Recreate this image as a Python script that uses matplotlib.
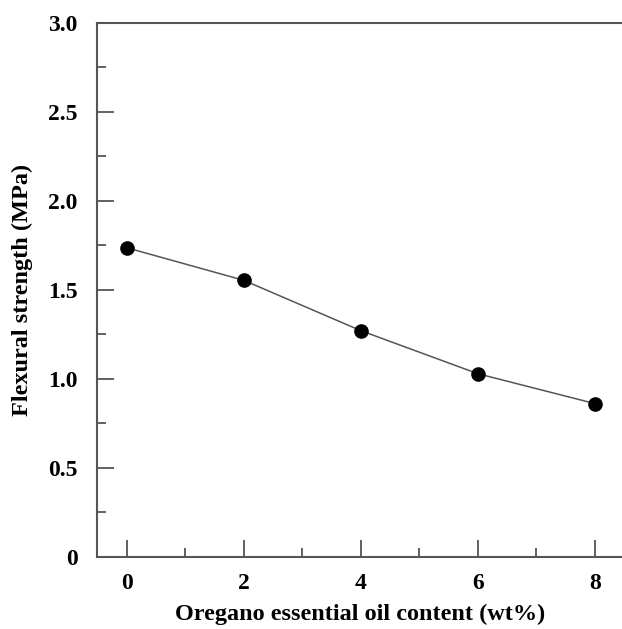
import matplotlib.pyplot as plt
import numpy as np

oil_content = [0, 2, 4, 6, 8]
flexural = [1.736, 1.553, 1.27, 1.028, 0.86]

plt.rcParams['font.family'] = ['Liberation Serif', 'DejaVu Serif']
plt.rcParams['font.weight'] = 'bold'

fig = plt.figure(figsize=(6.22, 6.29), dpi=100)
ax = fig.add_axes([0.1564, 0.1149, 0.8436, 0.849])

ax.plot(oil_content, flexural, color='#555555', linewidth=1.1,
        marker='o', markersize=9.5, markerfacecolor='black', markeredgecolor='black')

ax.set_xlim(-0.5, 8.46)
ax.set_ylim(0, 3.0)
ax.set_xticks([0, 2, 4, 6, 8])
ax.set_xticks([1, 3, 5, 7], minor=True)
ax.set_yticks([0, 0.5, 1.0, 1.5, 2.0, 2.5, 3.0])
ax.set_yticklabels(['0', '0.5', '1.0', '1.5', '2.0', '2.5', '3.0'])
ax.set_yticks([0.25, 0.75, 1.25, 1.75, 2.25, 2.75], minor=True)

for s in ['left', 'bottom', 'top']:
    ax.spines[s].set_color('#555555')
    ax.spines[s].set_linewidth(1.5)
ax.spines['right'].set_visible(False)

ax.tick_params(which='major', direction='in', length=12.5, width=1.3, color='#555555',
               labelsize=17)
ax.tick_params(which='minor', direction='in', length=6.5, width=1.3, color='#555555')
ax.tick_params(axis='x', pad=12)
ax.tick_params(axis='y', pad=14)

ax.set_xlabel('Oregano essential oil content (wt%)', fontsize=17.5, fontweight='bold', labelpad=7)
ax.set_ylabel('Flexural strength (MPa)', fontsize=17.5, fontweight='bold', labelpad=11)

fig.savefig('out.png', dpi=100)
